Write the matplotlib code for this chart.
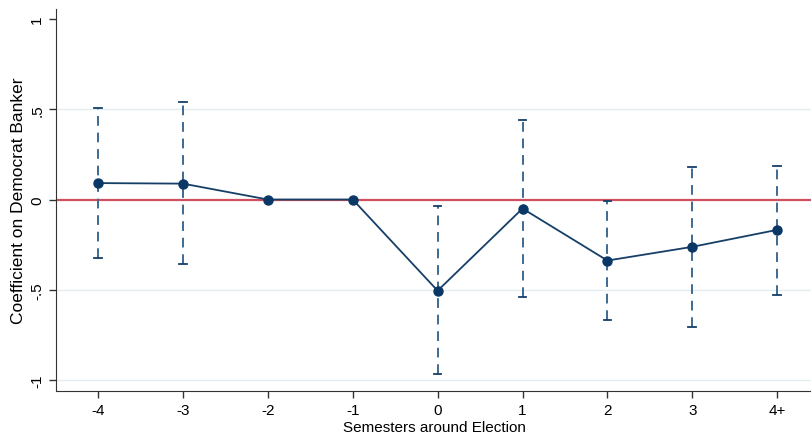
import matplotlib
matplotlib.use("Agg")
import matplotlib.pyplot as plt

plt.rcParams['font.family'] = ['Liberation Sans', 'DejaVu Sans']

labels = ['-4', '-3', '-2', '-1', '0', '1', '2', '3', '4+']
coef = [0.091, 0.088, 0.0, 0.0, -0.505, -0.05, -0.338, -0.262, -0.168]
ci_hi = [0.507, 0.54, None, None, -0.035, 0.438, -0.01, 0.18, 0.188]
ci_lo = [-0.324, -0.357, None, None, -0.967, -0.54, -0.667, -0.706, -0.529]

navy = '#163f68'
barcol = '#3d6a93'

fig = plt.figure(figsize=(8.12, 4.35), dpi=100)
ax = fig.add_axes([0.069, 0.099, 0.931, 0.878])

x = list(range(len(labels)))

for yv in [0.5, -0.5, -1]:
    ax.axhline(yv, color='#e3edf0', lw=1.0, zorder=0)
ax.axhline(0, color='#d0505f', lw=1.6, zorder=1)

for i in x:
    if ci_hi[i] is None:
        continue
    ax.plot([i, i], [ci_lo[i], ci_hi[i]], color=barcol, lw=1.4, ls=(0, (5, 3.5)), zorder=2)
    for yv in (ci_lo[i], ci_hi[i]):
        ax.plot([i - 0.045, i + 0.045], [yv, yv], color=navy, lw=1.3, zorder=2)

ax.plot(x, coef, color=navy, lw=1.3, marker='o', ms=6.5, mfc='#0a3866', mec='#0a3866', zorder=3)

ax.set_xlim(-0.495, 8.41)
ax.set_ylim(-1.06, 1.055)
ax.set_xticks(x)
ax.set_xticklabels(labels, fontsize=11)
ax.set_yticks([-1, -0.5, 0, 0.5, 1])
ax.set_yticklabels(['-1', '-.5', '0', '.5', '1'], fontsize=11, rotation=90, va='center')
ax.tick_params(length=5, width=1, color='#333333')

for s in ['top', 'right']:
    ax.spines[s].set_visible(False)
for s in ['left', 'bottom']:
    ax.spines[s].set_color('#333333')

ax.set_xlabel('Semesters around Election', fontsize=11, labelpad=2)
ax.set_ylabel('Coefficient on Democrat Banker', fontsize=12.5, labelpad=3)

fig.savefig('out.png', dpi=100)
